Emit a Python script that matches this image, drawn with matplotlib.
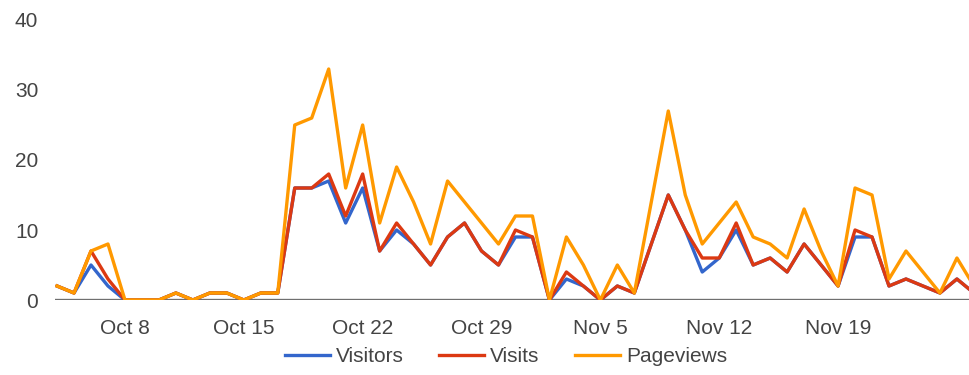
import pandas as pd
import matplotlib
matplotlib.use("Agg")
import matplotlib.pyplot as plt
import matplotlib.dates as mdates

plt.rcParams["font.family"] = ["Liberation Sans", "DejaVu Sans"]

# daily values, Oct 4 .. Nov 27
dates = pd.date_range("2023-10-04", "2023-11-27", freq="D")
visitors = [2, 1, 5, 2, 0, 0, 0, 1, 0, 1, 1, 0, 1, 1, 16, 16, 17, 11, 16, 7,
            10, 8, 5, 9, 11, 7, 5, 9, 9, 0, 3, 2, 0, 2, 1, 8, 15, 10, 4, 6,
            10, 5, 6, 4, 8, 5, 2, 9, 9, 2, 3, 2, 1, 3, 1]
visits = [2, 1, 7, 3, 0, 0, 0, 1, 0, 1, 1, 0, 1, 1, 16, 16, 18, 12, 18, 7,
          11, 8, 5, 9, 11, 7, 5, 10, 9, 0, 4, 2, 0, 2, 1, 8, 15, 10, 6, 6,
          11, 5, 6, 4, 8, 5, 2, 10, 9, 2, 3, 2, 1, 3, 1]
pageviews = [2, 1, 7, 8, 0, 0, 0, 1, 0, 1, 1, 0, 1, 1, 25, 26, 33, 16, 25, 11,
             19, 14, 8, 17, 14, 11, 8, 12, 12, 0, 9, 5, 0, 5, 1, 14, 27, 15, 8, 11,
             14, 9, 8, 6, 13, 7, 2, 16, 15, 3, 7, 4, 1, 6, 2]
tick_dates = pd.to_datetime(["2023-10-08", "2023-10-15", "2023-10-22", "2023-10-29",
                             "2023-11-05", "2023-11-12", "2023-11-19"])

fig = plt.figure(figsize=(9.7, 3.75), dpi=100)
ax = fig.add_axes([55 / 970, 75 / 375, 915 / 970, 280 / 375])

ax.plot(dates, visitors, color="#3366cc", lw=2.4, label="Visitors")
ax.plot(dates, visits, color="#dc3912", lw=2.4, label="Visits")
ax.plot(dates, pageviews, color="#ff9900", lw=2.4, label="Pageviews")

ax.axhline(0, color="#6f6f6f", lw=2.4, zorder=0.5)

start = mdates.date2num(dates[0])
ax.set_xlim(start - 0.12, start + 53.77)
ax.set_ylim(0, 40)
ax.set_yticks([0, 10, 20, 30, 40])
ax.set_xticks(tick_dates)
ax.xaxis.set_major_formatter(mdates.DateFormatter("%b %-d"))

for s in ax.spines.values():
    s.set_visible(False)
ax.tick_params(axis="both", length=0, labelsize=15, labelcolor="#444444")
ax.tick_params(axis="x", pad=14)
ax.tick_params(axis="y", pad=12)

fig.legend(loc="center", bbox_to_anchor=(506 / 970, 1 - 357 / 375), ncol=3,
           frameon=False, fontsize=15, handlelength=2.15, handletextpad=0.3,
           columnspacing=1.7, labelcolor="#444444")

fig.savefig("out.png", dpi=100)
